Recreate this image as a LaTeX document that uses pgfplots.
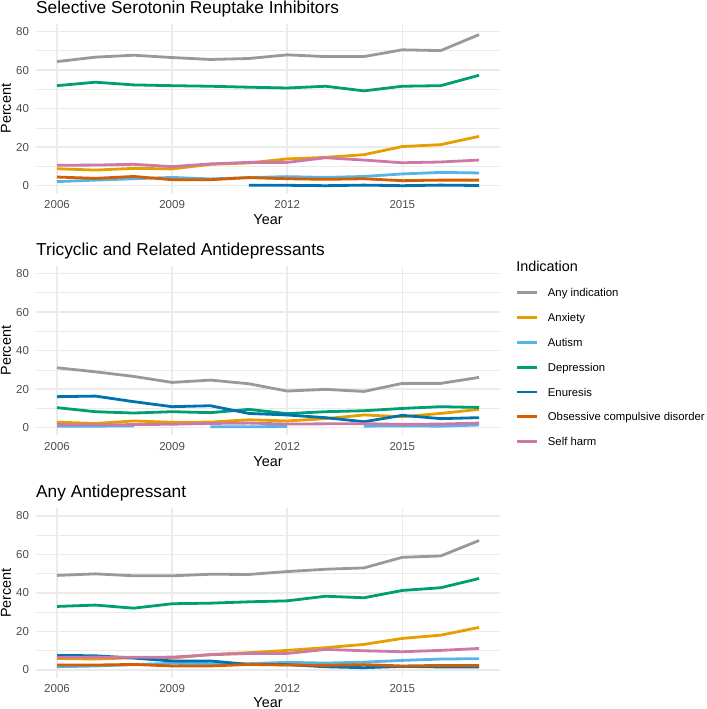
\documentclass[border=0pt]{standalone}
\usepackage{fontspec}
\setmainfont{Liberation Sans}
\usepackage{pgfplots}
\usepackage{pgfplotstable}
\pgfplotsset{compat=1.18}
\definecolor{cany}{HTML}{999999}
\definecolor{canx}{HTML}{E69F00}
\definecolor{caut}{HTML}{56B4E9}
\definecolor{cdep}{HTML}{009E73}
\definecolor{cenu}{HTML}{0072B2}
\definecolor{cocd}{HTML}{D55E00}
\definecolor{csh}{HTML}{CC79A7}
\definecolor{gridc}{HTML}{EBEBEB}
\definecolor{tickc}{HTML}{4D4D4D}

\pgfplotstableread{
Year Any  Anx  Aut  Dep  Enu  OCD  SH
2006 64.4 8.8  2.1  51.9 nan  4.5  10.6
2007 66.7 8.1  2.9  53.7 nan  3.8  10.7
2008 67.7 9.0  3.6  52.3 nan  4.8  11.1
2009 66.5 8.7  4.3  51.9 nan  3.1  9.9
2010 65.5 11.1 3.5  51.6 nan  3.1  11.3
2011 66.0 11.8 4.2  51.1 0.2  4.2  12.1
2012 67.9 13.9 4.7  50.7 0.2  3.6  12.1
2013 67.0 14.7 4.3  51.6 0.0  3.3  14.5
2014 67.0 16.1 4.8  49.2 0.3  3.6  13.3
2015 70.5 20.3 6.1  51.6 0.0  2.6  11.9
2016 70.1 21.3 6.9  51.9 0.3  2.9  12.3
2017 78.4 25.6 6.6  57.3 0.1  2.9  13.3
}\ssri

\pgfplotstableread{
Year Any  Anx  Aut  Dep  Enu  SH
2006 31.1 2.9  0.8  10.4 16.1 1.6
2007 29.0 2.2  0.8  8.3  16.4 1.5
2008 26.6 3.5  0.9  7.6  13.5 1.6
2009 23.5 2.8  nan  8.3  10.9 1.8
2010 24.7 2.9  0.5  7.8  11.4 2.2
2011 22.8 4.1  0.5  9.5  7.4  2.4
2012 19.0 3.5  0.6  7.3  6.6  1.9
2013 19.9 4.7  nan  8.3  5.2  2.0
2014 18.8 6.6  0.8  8.8  3.1  2.1
2015 23.0 5.7  0.9  10.0 6.4  1.7
2016 23.0 7.4  0.8  10.9 4.7  1.9
2017 26.1 9.5  1.4  10.5 5.2  2.4
}\tca

\pgfplotstableread{
Year Any  Anx  Aut  Dep  Enu  OCD  SH
2006 49.1 6.0  1.7  33.0 7.6  2.6  6.6
2007 49.9 5.7  2.1  33.7 7.4  2.6  6.7
2008 48.9 6.4  2.8  32.1 6.2  2.9  6.6
2009 48.9 6.2  3.5  34.4 4.7  2.1  6.7
2010 49.7 8.1  3.3  34.7 4.7  2.1  7.9
2011 49.6 9.0  3.3  35.4 2.9  2.9  8.6
2012 51.1 10.2 4.0  35.9 2.8  2.6  8.6
2013 52.3 11.6 3.6  38.3 1.7  2.4  10.7
2014 53.0 13.3 4.1  37.5 1.2  2.8  10.0
2015 58.5 16.4 5.0  41.3 1.9  2.1  9.5
2016 59.2 18.1 5.7  42.7 1.6  2.4  10.2
2017 67.2 22.1 5.9  47.5 1.6  2.4  11.2
}\anyad

\pgfplotsset{
 panel/.style={
  scale only axis, width=348.2pt, height=127.2pt,
  xmin=2005.45, xmax=2017.55, ymin=-4, ymax=84,
  axis line style={draw=none}, tick style={draw=none},
  xtick={2006,2009,2012,2015}, ytick={0,20,40,60,80},
  minor ytick={10,30,50,70},
  xmajorgrids, ymajorgrids, yminorgrids,
  major grid style={gridc, line width=1.1pt},
  minor grid style={gridc, line width=0.55pt},
  /pgf/number format/1000 sep={},
  /pgf/number format/assume math mode=true,
  tick label style={font=\fontsize{8.63}{10}\selectfont, color=tickc, inner sep=0pt},
  xticklabel style={anchor=center, yshift=-8.2pt},
  yticklabel style={anchor=east, xshift=-5pt},
  xlabel={Year}, ylabel={Percent},
  label style={font=\fontsize{10.8}{12}\selectfont, inner sep=0pt},
  xlabel style={at={(axis description cs:0.5,0)}, anchor=center, yshift=-19.8pt},
  ylabel style={at={(axis description cs:-0.0647,0.5)}, anchor=center},
  title style={at={(axis description cs:0,1)}, anchor=base west, inner sep=0pt, yshift=1.8pt, font=\fontsize{12.97}{14}\selectfont},
  every axis plot/.append style={line width=2.1pt, line join=round, line cap=butt, no markers, forget plot},
  unbounded coords=jump,
 }
}

\begin{document}
\begin{tikzpicture}
\path[use as bounding box] (0pt,0pt) rectangle (529.5pt,-531.75pt);

% Panel 1
\begin{axis}[panel, at={(26.93pt,-145.05pt)}, anchor=south west,
  title={Selective Serotonin Reuptake Inhibitors}]
\addplot[cany] table[x=Year,y=Any] {\ssri};
\addplot[canx] table[x=Year,y=Anx] {\ssri};
\addplot[caut] table[x=Year,y=Aut] {\ssri};
\addplot[cdep] table[x=Year,y=Dep] {\ssri};
\addplot[cenu] table[x=Year,y=Enu] {\ssri};
\addplot[cocd] table[x=Year,y=OCD] {\ssri};
\addplot[csh] table[x=Year,y=SH] {\ssri};
\end{axis}

% Panel 2
\begin{axis}[panel, at={(26.93pt,-326.55pt)}, anchor=south west,
  title={Tricyclic and Related Antidepressants},
  legend style={at={(axis description cs:1.0333,0.8648)}, anchor=north west,
    draw=none, fill=none, inner sep=0pt, outer sep=0pt, row sep=12.5pt,
    font=\fontsize{8.5}{10}\selectfont,
    nodes={inner sep=0pt, text height=6.1pt, text depth=0pt},
    /tikz/every odd column/.append style={column sep=6.8pt}},
  legend cell align=left,
  legend image code/.code={\draw[#1] (0pt,0pt) -- (15.3pt,0pt);}]
\addlegendimage{cany, line width=2.1pt}
\addlegendentry{Any indication}
\addlegendimage{canx, line width=2.1pt}
\addlegendentry{Anxiety}
\addlegendimage{caut, line width=2.1pt}
\addlegendentry{Autism}
\addlegendimage{cdep, line width=2.1pt}
\addlegendentry{Depression}
\addlegendimage{cenu, line width=2.1pt}
\addlegendentry{Enuresis}
\addlegendimage{cocd, line width=2.1pt}
\addlegendentry{Obsessive compulsive disorder}
\addlegendimage{csh, line width=2.1pt}
\addlegendentry{Self harm}
\addplot[cany] table[x=Year,y=Any] {\tca};
\addplot[canx] table[x=Year,y=Anx] {\tca};
\addplot[caut] table[x=Year,y=Aut] {\tca};
\addplot[cdep] table[x=Year,y=Dep] {\tca};
\addplot[cenu] table[x=Year,y=Enu] {\tca};
\addplot[csh] table[x=Year,y=SH] {\tca};
\end{axis}

% Panel 3
\begin{axis}[panel, at={(26.93pt,-508.3pt)}, anchor=south west,
  title={Any Antidepressant},
  xlabel style={yshift=0.8pt}]
\addplot[cany] table[x=Year,y=Any] {\anyad};
\addplot[canx] table[x=Year,y=Anx] {\anyad};
\addplot[caut] table[x=Year,y=Aut] {\anyad};
\addplot[cdep] table[x=Year,y=Dep] {\anyad};
\addplot[cenu] table[x=Year,y=Enu] {\anyad};
\addplot[cocd] table[x=Year,y=OCD] {\anyad};
\addplot[csh] table[x=Year,y=SH] {\anyad};
\end{axis}

\node[anchor=west, inner sep=0pt, font=\fontsize{10.8}{12}\selectfont] at (387pt,-199.5pt) {Indication};
\end{tikzpicture}
\end{document}
